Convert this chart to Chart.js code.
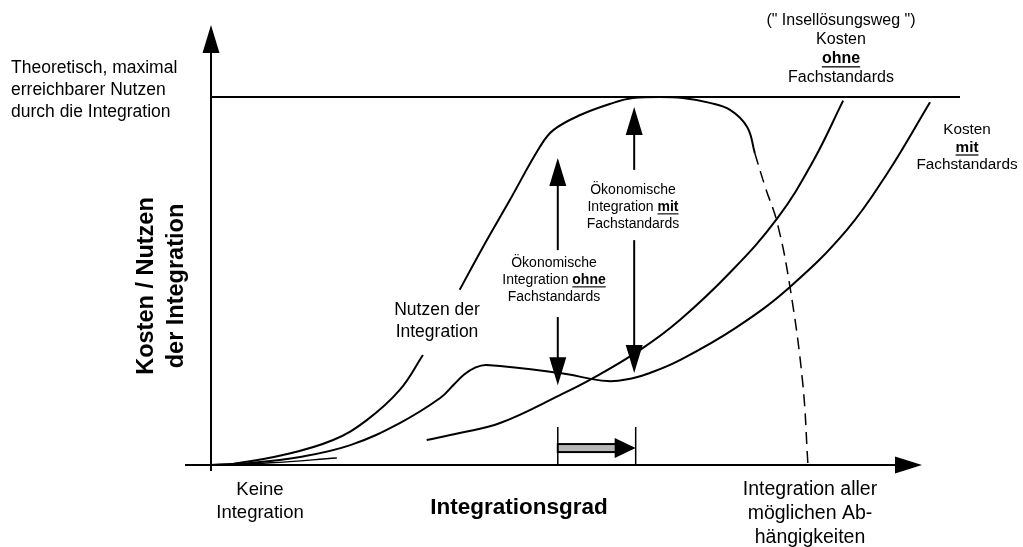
<!DOCTYPE html>
<html>
<head>
<meta charset="utf-8">
<script src="https://cdn.jsdelivr.net/npm/chart.js@4"></script>
<style>
  html, body { margin: 0; padding: 0; background: #fff; }
  #wrap { width: 1023px; height: 547px; }
</style>
</head>
<body>
<div id="wrap"><canvas id="chart" width="1023" height="547"></canvas></div>
<script>
// Integrationsgrad (x) vs Kosten / Nutzen (y), both 0..100
const nutzenLowX  = [0, 2.9, 9.6, 16.3, 20.8, 25.2, 28.3];
const nutzenLowY  = [0, 0.3, 2.7, 6.8, 12.2, 20.4, 29.9];
// upper part of Nutzen curve; from index 13 on it is dashed
const nutzenHighX = [33.2, 36.3, 39.9, 43.9, 45.7, 49.3, 53.7, 56.3, 59.9, 63.0, 66.6, 69.3, 71.6, 72.6, 74.0, 75.6, 77.3, 79.0, 79.7];
const nutzenHighY = [47.6, 59.2, 72.0, 86.4, 91.0, 95.1, 98.4, 99.7, 100, 99.7, 98.4, 96.5, 91.8, 84.8, 75.5, 65.8, 48.4, 22.3, 0];
const dashFrom = 13;

const mitX = [0, 4.9, 11.9, 18.6, 25.2, 30.6, 32.4, 33.8, 35.2, 36.8, 46.6, 52.9, 56.3, 58.6, 62.6, 70.0, 77.3, 84.9, 90.3, 96.0];
const mitY = [0, 0.5, 2.2, 5.4, 11.4, 18.2, 21.8, 24.6, 26.4, 27.2, 25.0, 22.8, 23.6, 25.0, 28.5, 37.2, 48.4, 63.9, 79.3, 98.6];

const ohneX = [28.8, 33.2, 38.6, 46.6, 51.0, 57.3, 62.6, 69.3, 75.6, 80.4, 84.4];
const ohneY = [6.8, 8.7, 11.4, 19.0, 23.6, 31.3, 39.4, 52.3, 67.0, 82.6, 99.0];

const startX = [0, 8, 16.8];
const startY = [0, 0.6, 1.9];

const maxX = [0, 100];
const maxY = [100, 100];

// Markierungen (Pfeile) in Datenkoordinaten
const arrowOhne = { x: 46.3, upFrom: 58.4, upTip: 83.4, downFrom: 40.2, downTip: 21.7 };
const arrowMit  = { x: 56.5, upFrom: 80.2, upTip: 97.3, downFrom: 61.1, downTip: 25.0 };
const shift = { from: 46.3, to: 56.7, top: 10.3, y: 4.6 };

const FONT = "'Liberation Sans', Arial, sans-serif";

function pts(xs, ys) {
  return xs.map((x, i) => ({ x: x, y: ys[i] }));
}

function line(xs, ys, extra) {
  return Object.assign({
    data: pts(xs, ys),
    borderColor: '#000',
    borderWidth: 2,
    pointRadius: 0,
    showLine: true,
    fill: false,
    clip: false,
    tension: 0.4
  }, extra || {});
}

function head(ctx, x, y, dir, len, w) {
  ctx.beginPath();
  if (dir === 'up') {
    ctx.moveTo(x, y); ctx.lineTo(x - w / 2, y + len); ctx.lineTo(x + w / 2, y + len);
  } else if (dir === 'down') {
    ctx.moveTo(x, y); ctx.lineTo(x - w / 2, y - len); ctx.lineTo(x + w / 2, y - len);
  } else {
    ctx.moveTo(x, y); ctx.lineTo(x - len, y - w / 2); ctx.lineTo(x - len, y + w / 2);
  }
  ctx.closePath();
  ctx.fill();
}

function vArrow(ctx, x, yFrom, yTip) {
  const dir = yTip < yFrom ? 'up' : 'down';
  ctx.beginPath();
  ctx.moveTo(x, yFrom);
  ctx.lineTo(x, dir === 'up' ? yTip + 20 : yTip - 20);
  ctx.stroke();
  head(ctx, x, yTip, dir, 28, 17);
}

function rich(ctx, parts, cx, y, size) {
  let total = 0;
  parts.forEach(p => {
    ctx.font = (p.b ? 'bold ' : '') + size + 'px ' + FONT;
    p.w = ctx.measureText(p.t).width;
    total += p.w;
  });
  let x = cx - total / 2;
  ctx.textAlign = 'left';
  parts.forEach(p => {
    ctx.font = (p.b ? 'bold ' : '') + size + 'px ' + FONT;
    ctx.fillText(p.t, x, y);
    if (p.u) {
      ctx.fillRect(x, y + size * 0.45, p.w, Math.max(1, size * 0.08));
    }
    x += p.w;
  });
}

function lines(ctx, rows, cx, y0, step, size) {
  rows.forEach((r, i) => {
    const parts = typeof r === 'string' ? [{ t: r }] : r;
    rich(ctx, parts, cx, y0 + i * step, size);
  });
}

const decor = {
  id: 'decor',
  afterDatasetsDraw(chart) {
    const ctx = chart.ctx;
    const xs = chart.scales.x, ys = chart.scales.y;
    const X = v => xs.getPixelForValue(v);
    const Y = v => ys.getPixelForValue(v);
    const x0 = X(0), y0 = Y(0);

    ctx.save();
    ctx.strokeStyle = '#000';
    ctx.fillStyle = '#000';
    ctx.lineWidth = 2;

    // axes
    ctx.beginPath();
    ctx.moveTo(x0, y0 + 6);
    ctx.lineTo(x0, 45);
    ctx.stroke();
    head(ctx, x0, 25, 'up', 28, 17);
    ctx.beginPath();
    ctx.moveTo(185, y0);
    ctx.lineTo(900, y0);
    ctx.stroke();
    head(ctx, 922, y0, 'right', 27, 17);

    // economic integration arrows
    [arrowOhne, arrowMit].forEach(a => {
      vArrow(ctx, X(a.x), Y(a.upFrom), Y(a.upTip));
      vArrow(ctx, X(a.x), Y(a.downFrom), Y(a.downTip));
    });

    // shift bracket with grey arrow
    ctx.lineWidth = 1.5;
    ctx.beginPath();
    ctx.moveTo(X(shift.from), Y(shift.top)); ctx.lineTo(X(shift.from), y0);
    ctx.moveTo(X(shift.to), Y(shift.top)); ctx.lineTo(X(shift.to), y0);
    ctx.stroke();
    const gy = Y(shift.y);
    const barW = X(shift.to) - X(shift.from) - 18;
    ctx.fillStyle = '#b8b8b8';
    ctx.fillRect(X(shift.from), gy - 4, barW, 8);
    ctx.lineWidth = 2;
    ctx.strokeRect(X(shift.from), gy - 4, barW, 8);
    ctx.fillStyle = '#000';
    head(ctx, X(shift.to), gy, 'right', 21, 20);

    // texts
    ctx.fillStyle = '#000';
    ctx.textBaseline = 'middle';

    ctx.font = '17.5px ' + FONT;
    ctx.textAlign = 'left';
    ['Theoretisch, maximal', 'erreichbarer Nutzen', 'durch die Integration'].forEach((t, i) => {
      ctx.fillText(t, 11, 68 + i * 22);
    });

    ctx.save();
    ctx.translate(162, 286);
    ctx.rotate(-Math.PI / 2);
    ctx.font = 'bold 23.5px ' + FONT;
    ctx.textAlign = 'center';
    ctx.fillText('Kosten / Nutzen', 0, -15);
    ctx.fillText('der Integration', 0, 15);
    ctx.restore();

    lines(ctx, ['Keine', 'Integration'], 260, 490, 23, 18.5);
    lines(ctx, [[{ t: 'Integrationsgrad', b: true }]], 519, 508, 0, 22.5);
    lines(ctx, ['Integration aller', 'möglichen Ab-', 'hängigkeiten'], 810, 490, 24, 19.5);

    lines(ctx, ['(" Insellösungsweg ")', 'Kosten', [{ t: 'ohne', b: true, u: true }], 'Fachstandards'], 841, 21, 19, 16);
    lines(ctx, ['Kosten', [{ t: 'mit', b: true, u: true }], 'Fachstandards'], 967, 130, 17.5, 15.3);

    lines(ctx, ['Nutzen der', 'Integration'], 437, 310, 22, 17.5);

    lines(ctx, ['Ökonomische', [{ t: 'Integration ' }, { t: 'ohne', b: true, u: true }], 'Fachstandards'], 554, 263, 17, 14);
    lines(ctx, ['Ökonomische', [{ t: 'Integration ' }, { t: 'mit', b: true, u: true }], 'Fachstandards'], 633, 190, 17, 14);

    ctx.restore();
  }
};

new Chart(document.getElementById('chart'), {
  type: 'scatter',
  data: {
    datasets: [
      line(maxX, maxY, { tension: 0 }),
      line(nutzenLowX, nutzenLowY),
      line(nutzenHighX, nutzenHighY, {
        segment: {
          borderDash: c => (c.p0DataIndex >= dashFrom ? [12, 7] : undefined),
          borderWidth: c => (c.p0DataIndex >= dashFrom ? 1.5 : undefined)
        }
      }),
      line(mitX, mitY),
      line(ohneX, ohneY),
      line(startX, startY, { borderWidth: 1.5 })
    ]
  },
  options: {
    responsive: false,
    animation: false,
    layout: { padding: { left: 211, right: 63, top: 97, bottom: 82 } },
    plugins: { legend: { display: false }, tooltip: { enabled: false } },
    scales: {
      x: { type: 'linear', min: 0, max: 100, display: false },
      y: { type: 'linear', min: 0, max: 100, display: false }
    }
  },
  plugins: [decor]
});
</script>
</body>
</html>
